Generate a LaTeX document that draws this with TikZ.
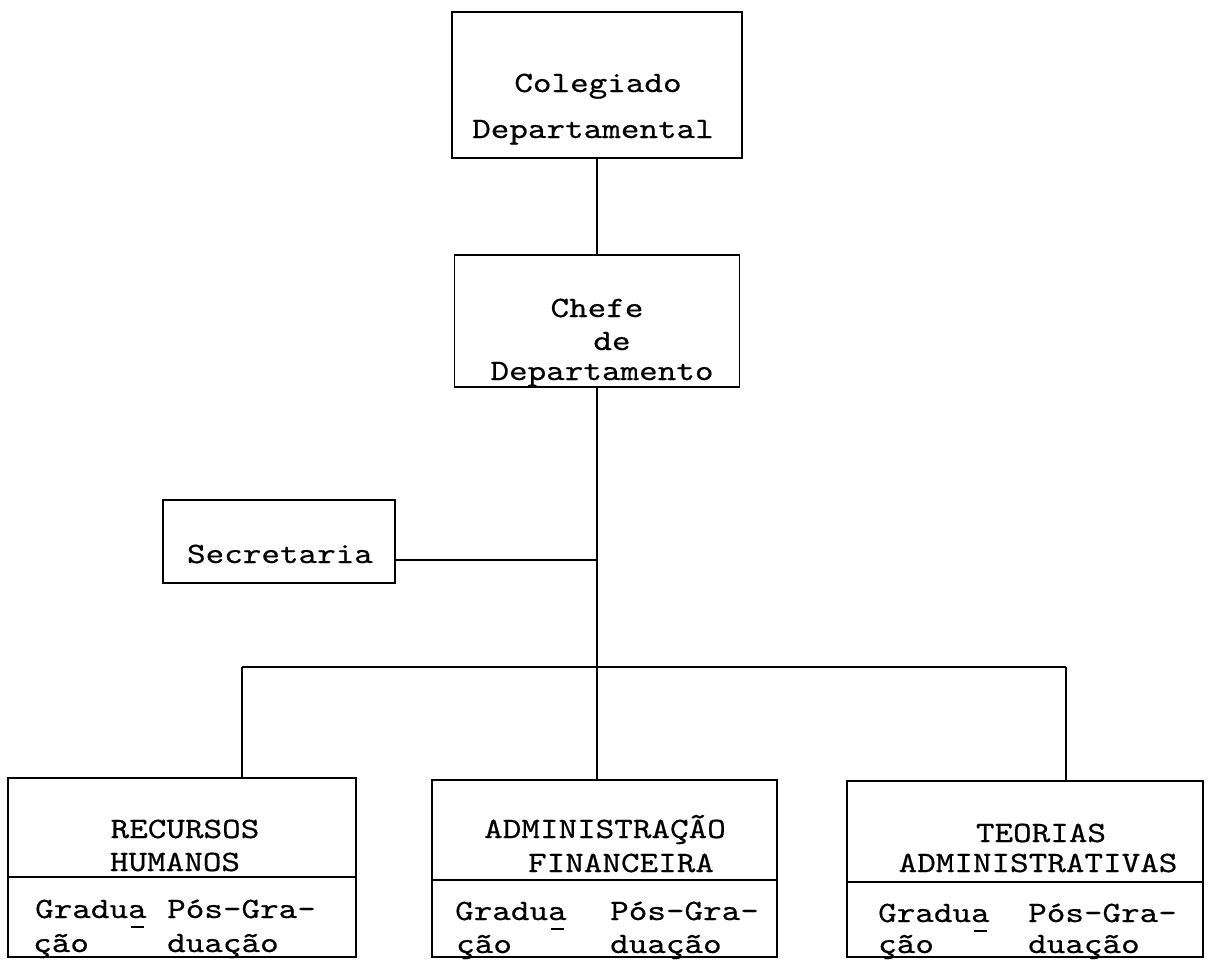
\documentclass[tikz,border=0pt]{standalone}
\usepackage{fontspec}
\newfontfamily\tw{lmmono10-regular}[Extension=.otf, FakeStretch=1.2, FakeBold=0.5]
\newcommand\undA{\makebox[0pt][l]{\hspace{2.8pt}\rule[-10pt]{13pt}{2.4pt}}a}
\begin{document}
\begin{tikzpicture}[x=1pt,y=-1pt,
  box/.style={draw, line width=1.8pt, inner sep=0pt, outer sep=0pt},
  conn/.style={line width=2pt},
  txt/.style={font=\tw\fontsize{29.5}{33}\selectfont, inner sep=0pt, anchor=base},
  txtl/.style={txt, anchor=base west}]
\useasboundingbox (0,0) rectangle (1215,959);
\fill[white] (0,0) rectangle (1215,959);

% boxes
\node[box, minimum width=290pt, minimum height=146pt] (col) at (597,85) {};
\node[box, minimum width=285pt, minimum height=132pt] (chefe) at (597,321) {};
\node[box, minimum width=232pt, minimum height=83pt] (sec) at (279,541.5) {};
\node[box, minimum width=348pt, minimum height=179pt] (rh) at (182,867.5) {};
\node[box, minimum width=345pt, minimum height=177pt] (af) at (604.5,868.5) {};
\node[box, minimum width=356pt, minimum height=176pt] (ta) at (1025,869) {};

% dividers
\draw[line width=1.8pt] ([yshift=-99pt]rh.north west) -- ([yshift=-99pt]rh.north east);
\draw[line width=1.8pt] ([yshift=-100pt]af.north west) -- ([yshift=-100pt]af.north east);
\draw[line width=1.8pt] ([yshift=-101pt]ta.north west) -- ([yshift=-101pt]ta.north east);

% junctions
\coordinate (jm) at (597,667);
\coordinate (jl) at (242,667);
\coordinate (jr) at (1066,667);
\coordinate (js) at (597,560);

% connectors
\draw[conn] (col.south) -- (col.south |- chefe.north);
\draw[conn] (chefe.south) -- (jm);
\draw[conn] (jm) -- (jm |- af.north);
\draw[conn] (sec.east |- js) -- (js);
\draw[conn] (jl) -- (jr);
\draw[conn] (jl) -- (jl |- rh.north);
\draw[conn] (jr) -- (jr |- ta.north);

% texts
\node[txt] (colA) at (598,92) {Colegiado};
\node[txt] (colB) at (593,138) {Departamental};
\node[txt] (chA) at (597,317) {Chefe};
\node[txt] (chB) at (612,350) {de};
\node[txt] (chC) at (602,380) {Departamento};
\node[txt] (secA) at (280,563) {Secretaria};

\node[txt] (rhA) at (185,838) {RECURSOS};
\node[txt] (rhB) at (175,871) {HUMANOS};
\node[txtl] (rhC) at (35,918) {Gradu\undA};
\node[txtl] (rhD) at (167,918) {Pós-Gra-};
\node[txtl] (rhE) at (33,952) {ção};
\node[txtl] (rhF) at (167,952) {duação};

\node[txt] (afA) at (605,838) {ADMINISTRAÇÃO};
\node[txt] (afB) at (621,872) {FINANCEIRA};
\node[txtl] (afC) at (455,920) {Gradu\undA};
\node[txtl] (afD) at (610,920) {Pós-Gra-};
\node[txtl] (afE) at (456,953) {ção};
\node[txtl] (afF) at (610,953) {duação};

\node[txt] (taA) at (1041,842) {TEORIAS};
\node[txt] (taB) at (1038,872) {ADMINISTRATIVAS};
\node[txtl] (taC) at (878,922) {Gradu\undA};
\node[txtl] (taD) at (1028,922) {Pós-Gra-};
\node[txtl] (taE) at (878,953) {ção};
\node[txtl] (taF) at (1028,953) {duação};
\end{tikzpicture}
\end{document}
